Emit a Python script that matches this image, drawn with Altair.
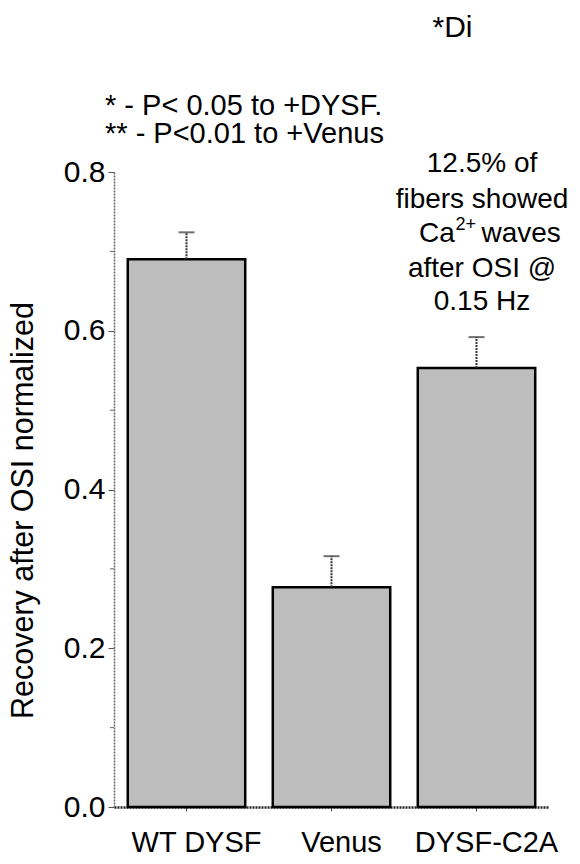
import altair as alt
import pandas as pd

groups = ["WT DYSF", "Venus", "DYSF-C2A"]
means = [0.690, 0.277, 0.553]
errors = [0.034, 0.039, 0.039]
y_ticks = [0.0, 0.2, 0.4, 0.6, 0.8]
minor_ticks = [0.1, 0.3, 0.5, 0.7]

df = pd.DataFrame({
    "group": groups,
    "mean": means,
    "upper": [m + e for m, e in zip(means, errors)],
})
minor_df = pd.DataFrame({"v": minor_ticks})

FONT = "Liberation Sans"

x_scale = alt.Scale(domain=groups, paddingInner=0.19, paddingOuter=0.095)
x_enc = alt.X(
    "group:N",
    scale=x_scale,
    axis=alt.Axis(
        title=None, labelAngle=0, labelFontSize=29, labelFont=FONT,
        labelColor="black", labelPadding=17, labelOffset=10,
        tickSize=4, tickColor="#444", domainColor="#222", domainWidth=2.5,
        domainDash=[2, 1],
    ),
)
y_scale = alt.Scale(domain=[0, 0.8], nice=False, zero=True)
y_enc = alt.Y(
    "mean:Q",
    scale=y_scale,
    axis=alt.Axis(
        values=y_ticks, format=".1f", labelFontSize=30, labelFont=FONT,
        labelColor="black", labelPadding=3, tickSize=6, tickColor="#555",
        domainColor="#666", domainWidth=1.5, domainDash=[2, 1], grid=False,
        title="Recovery after OSI normalized", titleFontSize=30.5,
        titleFont=FONT, titleFontWeight="normal", titleColor="black",
        titleAngle=270, titleAlign="center", titleBaseline="alphabetic",
        titleX=-82, titleY=338,
    ),
)

bars = alt.Chart(df).mark_bar(
    fill="#bdbdbd", stroke="black", strokeWidth=2.5
).encode(x=x_enc, y=y_enc)

err_line = alt.Chart(df).mark_rule(
    color="#333", strokeWidth=2, strokeDash=[2, 1]
).encode(x=alt.X("group:N", scale=x_scale), y=alt.Y("mean:Q", scale=y_scale), y2="upper:Q")

err_cap = alt.Chart(df).mark_tick(
    color="#333", size=16, thickness=2, orient="horizontal"
).encode(x=alt.X("group:N", scale=x_scale), y=alt.Y("upper:Q", scale=y_scale))

minor = alt.Chart(minor_df).mark_rule(color="#666", strokeWidth=1).encode(
    y=alt.Y("v:Q", scale=y_scale), x=alt.value(-4), x2=alt.value(0)
)


def label(text, group, yv, dx, align, size, dy=0):
    return alt.Chart(pd.DataFrame({"t": [text], "g": [group]})).mark_text(
        align=align, baseline="alphabetic", fontSize=size, font=FONT,
        color="black", dx=dx, dy=dy,
    ).encode(
        x=alt.X("g:N", scale=x_scale),
        y=alt.Y("yv:Q", scale=y_scale),
        text="t:N",
    ).transform_calculate(yv=str(yv))


texts = [
    label("* - P< 0.05 to +DYSF.", "WT DYSF", 0.872, -81.5, "left", 29),
    label("** - P<0.01 to +Venus", "WT DYSF", 0.837, -81.5, "left", 29),
    label("*Di", "DYSF-C2A", 0.970, -24, "center", 30),
    label("12.5% of", "DYSF-C2A", 0.800, 5.5, "center", 28),
    label("fibers showed", "DYSF-C2A", 0.7546, 5.5, "center", 28),
    label("Ca", "DYSF-C2A", 0.7118, -57.5, "left", 28),
    label("2+", "DYSF-C2A", 0.7118, -21, "left", 18, dy=-12),
    label("waves", "DYSF-C2A", 0.7118, 5, "left", 28),
    label("after OSI @", "DYSF-C2A", 0.6677, 5.5, "center", 28),
    label("0.15 Hz", "DYSF-C2A", 0.6261, 5.5, "center", 28),
]

chart = alt.layer(bars, err_line, err_cap, minor, *texts).properties(
    width=435, height=635,
    padding={"left": 114, "top": 172, "right": 31, "bottom": 57},
    autosize=alt.AutoSizeParams(type="none"),
    background="white",
).configure_view(stroke=None)

chart.save("out.html", embed_options={"renderer": "svg", "actions": False})
